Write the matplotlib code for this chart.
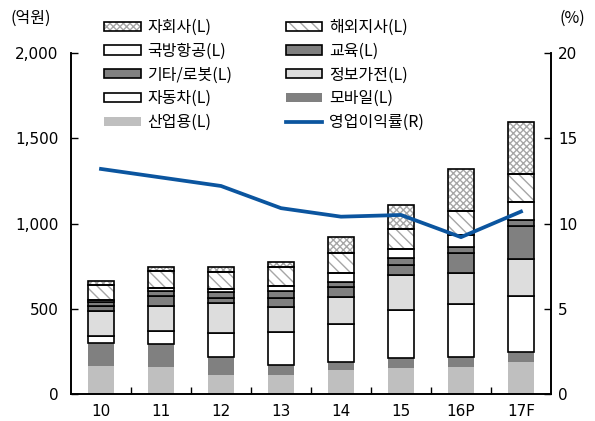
import numpy as np
import matplotlib.pyplot as plt
import matplotlib.patches as mpatches
from matplotlib.lines import Line2D
from matplotlib.legend_handler import HandlerTuple

plt.rcParams['font.family'] = ['Noto Sans CJK KR', 'DejaVu Sans']
plt.rcParams['font.size'] = 11.5

# data (억원, %)
years = ['10', '11', '12', '13', '14', '15', '16P', '17F']
industrial = [164, 157, 111, 111, 138, 151, 160, 188]   # 산업용
mobile = [135, 134, 104, 59, 51, 62, 55, 58]             # 모바일
auto = [43, 78, 145, 192, 220, 280, 311, 331]            # 자동차
appliance = [147, 149, 172, 150, 162, 205, 182, 217]     # 정보가전
robot = [27, 59, 29, 49, 55, 59, 117, 193]               # 기타/로봇
education = [25, 27, 35, 43, 33, 39, 39, 32]            # 교육
defense = [10, 16, 18, 31, 52, 53, 69, 107]              # 국방항공
overseas = [88, 101, 100, 108, 114, 119, 142, 164]       # 해외지사
subsidiary = [24, 22, 29, 29, 94, 140, 245, 305]         # 자회사
margin = [13.2, 12.7, 12.2, 10.9, 10.4, 10.5, 9.2, 10.7] # 영업이익률

fig = plt.figure(figsize=(5.95, 4.21), dpi=100)
ax = fig.add_axes([71/595, 27/421, 480/595, 341/421])
ax2 = ax.twinx()

x = np.arange(len(years))
w = 0.42
lw = 1.2
blue = '#0B559F'

# (values, facecolor, edge?, hatch)
series = [
    (industrial, '#BFBFBF', False, None),
    (mobile, '#808080', False, None),
    (auto, 'white', True, None),
    (appliance, '#DDDDDD', True, None),
    (robot, '#808080', True, None),
    (education, '#808080', True, None),
    (defense, 'white', True, None),
    (overseas, 'white', True, '\\\\\\'),
    (subsidiary, 'white', True, 'xxxxx'),
]

bottom = np.zeros(len(years))
for vals, fc, edge, hatch in series:
    vals = np.array(vals, dtype=float)
    if hatch:
        ax.bar(x, vals, w, bottom=bottom, color='white', edgecolor='#A6A6A6',
               hatch=hatch, linewidth=0, zorder=2)
        ax.bar(x, vals, w, bottom=bottom, fill=False, edgecolor='black',
               linewidth=lw, zorder=3)
    elif edge:
        ax.bar(x, vals, w, bottom=bottom, color=fc, edgecolor='black',
               linewidth=lw, zorder=3)
    else:
        ax.bar(x, vals, w, bottom=bottom, color=fc, linewidth=0, zorder=2)
    bottom += vals

ax2.plot(x, margin, color=blue, linewidth=2.7, zorder=5)

ax.set_xlim(-0.5, 7.5)
ax.set_ylim(0, 2000)
ax2.set_ylim(0, 20)
ax.set_yticks([0, 500, 1000, 1500, 2000])
ax.set_yticklabels(['0', '500', '1,000', '1,500', '2,000'])
ax2.set_yticks([0, 5, 10, 15, 20])
ax.set_xticks(x)
ax.set_xticklabels(years)
ax.set_xticks(np.arange(0.5, 7, 1), minor=True)
ax.tick_params(axis='x', which='major', length=0, pad=7)
ax.tick_params(axis='x', which='minor', direction='in', length=5, width=1)
ax.tick_params(axis='y', direction='in', length=5, width=1, pad=9)
ax2.tick_params(axis='y', direction='in', length=5, width=1, pad=5)

for lab in ax.get_xticklabels() + ax.get_yticklabels() + ax2.get_yticklabels():
    lab.set_family('DejaVu Sans')
    lab.set_fontsize(11)

for a in (ax, ax2):
    a.spines['top'].set_visible(False)
    for s in ('left', 'right', 'bottom'):
        a.spines[s].set_linewidth(1.2)

ax.set_zorder(1)
ax2.set_zorder(2)
ax2.patch.set_visible(False)

fig.text(10/595, 1 - 18/421, '(억원)', ha='left', va='center')
fig.text(585/595, 1 - 18/421, '(%)', ha='right', va='center')

def hatched(h):
    return (mpatches.Patch(facecolor='white', edgecolor='#A6A6A6', hatch=h, linewidth=0),
            mpatches.Patch(fill=False, edgecolor='black', linewidth=lw))

def boxed(fc):
    return mpatches.Patch(facecolor=fc, edgecolor='black', linewidth=lw)

handles = [hatched('xxxxx'), boxed('white'), boxed('#808080'), boxed('white'),
           mpatches.Patch(facecolor='#BFBFBF', linewidth=0),
           hatched('\\\\\\'), boxed('#808080'), boxed('#DDDDDD'),
           mpatches.Patch(facecolor='#808080', linewidth=0),
           Line2D([], [], color=blue, linewidth=2.7)]
labels = ['자회사(L)', '국방항공(L)', '기타/로봇(L)', '자동차(L)', '산업용(L)',
          '해외지사(L)', '교육(L)', '정보가전(L)', '모바일(L)', '영업이익률(R)']

fig.legend(handles, labels, ncol=2, loc='upper left',
           bbox_to_anchor=(104/595, 1 - 19/421), bbox_transform=fig.transFigure,
           frameon=False, borderpad=0, borderaxespad=0,
           handlelength=2.3, handleheight=0.5, handletextpad=0.4,
           labelspacing=0.42, columnspacing=3.35,
           handler_map={tuple: HandlerTuple(ndivide=1, pad=0)})

fig.savefig('out.png', dpi=100)
